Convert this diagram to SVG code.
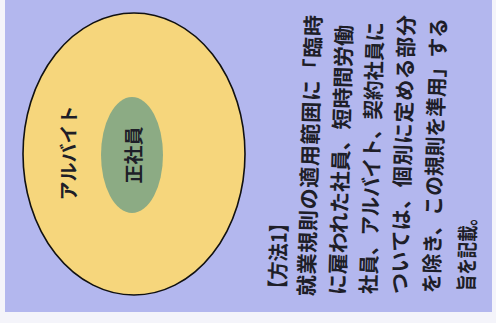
<svg xmlns="http://www.w3.org/2000/svg" width="496" height="323" viewBox="0 0 496 323">
<style>
.t{font-family:"Noto Sans CJK JP","Noto Sans",sans-serif;fill:#1e1e28;dominant-baseline:central}
.body{font-size:21px;font-weight:600}
.lbl{font-size:19px;font-weight:600}
</style>
<rect x="0" y="0" width="496" height="323" fill="#f4f4fa"/>
<rect x="5" y="0" width="487" height="312" fill="#b3b7ee"/>
<g id="arbeit">
<ellipse cx="134" cy="154" rx="111" ry="141" fill="#f6d67c" stroke="#111" stroke-width="1.6"/>
<text class="t lbl" x="67" y="153" text-anchor="middle" transform="rotate(-90 67 153)">アルバイト</text>
</g>
<g id="seishain">
<ellipse cx="132" cy="155" rx="31" ry="58" fill="#8cab84"/>
<text class="t lbl" x="132" y="155" text-anchor="middle" transform="rotate(-90 132 155)">正社員</text>
</g>
<g id="connectors"/>
<g id="note">
<text class="t body" x="276" y="298" textLength="84" lengthAdjust="spacingAndGlyphs" transform="rotate(-88.5 276 298)">【方法1】</text>
<text class="t body" x="305" y="296" textLength="281" lengthAdjust="spacing" transform="rotate(-88.5 305 296)">就業規則の適用範囲に「臨時</text>
<text class="t body" x="336" y="295" textLength="270" lengthAdjust="spacing" transform="rotate(-88.5 336 295)">に雇われた社員、短時間労働</text>
<text class="t body" x="367" y="294" textLength="272" lengthAdjust="spacingAndGlyphs" transform="rotate(-88.5 367 294)">社員、アルバイト、契約社員に</text>
<text class="t body" x="398" y="294" textLength="279" lengthAdjust="spacing" transform="rotate(-88.5 398 294)">ついては、個別に定める部分</text>
<text class="t body" x="430" y="293" textLength="275" lengthAdjust="spacingAndGlyphs" transform="rotate(-88.5 430 293)">を除き、この規則を準用」する</text>
<text class="t body" x="465" y="291" textLength="82" lengthAdjust="spacingAndGlyphs" transform="rotate(-88.5 465 291)">旨を記載。</text>
</g>
</svg>
